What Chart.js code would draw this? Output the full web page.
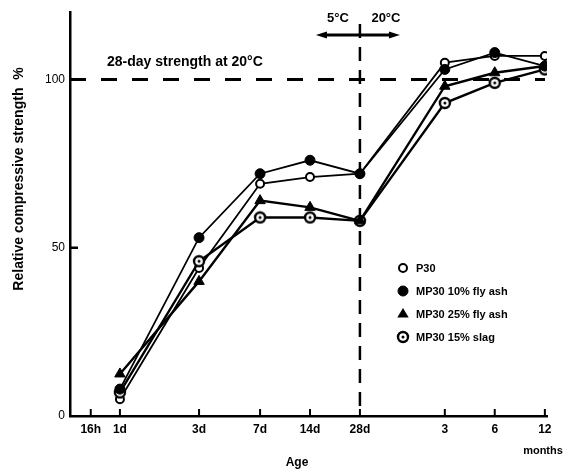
<!DOCTYPE html>
<html>
<head>
<meta charset="utf-8">
<script src="https://cdn.jsdelivr.net/npm/chart.js@4.4.0/dist/chart.umd.min.js"></script>
<style>
  html, body { margin: 0; padding: 0; background: #fff; }
  #wrap { width: 574px; height: 475px; }
</style>
</head>
<body>
<div id="wrap"><canvas id="chart"></canvas></div>
<script>
// Age axis, in days (16h, 1d ... then 3, 6, 12 months)
const ageDays = [0.667, 1, 3, 7, 14, 28, 91, 182, 365];
const ageLabels = ['16h', '1d', '3d', '7d', '14d', '28d', '3', '6', '12'];

// Test ages (nothing was measured at 16h)
const testDays = [1, 3, 7, 14, 28, 91, 182, 365];

// Relative compressive strength, %
const p30 = [5, 44, 69, 71, 72, 105, 107, 107];
const flyAsh10 = [8, 53, 72, 76, 72, 103, 108, 104];
const flyAsh25 = [12.5, 40, 64, 62, 58, 98, 102, 104];
const slag15 = [7, 46, 59, 59, 58, 93, 99, 103];

const yTicks = [0, 50, 100];
const refStrength = 100;   // 28-day strength at 20°C
const switchDay = 28;      // curing moves from 5°C to 20°C

const INK = '#000';
const FONT = '"Liberation Sans", Arial, sans-serif';

function toPoints(values) {
    return testDays.map((d, i) => ({ x: d, y: values[i] }));
}

// open circle with a dot in the middle, for the slag mix
function slagMarker() {
    const c = document.createElement('canvas');
    c.width = 14;
    c.height = 14;
    const g = c.getContext('2d');
    g.beginPath();
    g.arc(7, 7, 5, 0, Math.PI * 2);
    g.fillStyle = '#fff';
    g.fill();
    g.lineWidth = 2.4;
    g.strokeStyle = INK;
    g.stroke();
    g.beginPath();
    g.arc(7, 7, 1.5, 0, Math.PI * 2);
    g.fillStyle = INK;
    g.fill();
    return c;
}
const slagImg = slagMarker();

function drawMarker(ctx, ds, x, y) {
    ctx.save();
    if (ds.pointStyle === 'triangle') {
        const r = ds.pointRadius;
        ctx.beginPath();
        ctx.moveTo(x, y - r);
        ctx.lineTo(x + r * 0.95, y + r * 0.6);
        ctx.lineTo(x - r * 0.95, y + r * 0.6);
        ctx.closePath();
        ctx.fillStyle = INK;
        ctx.fill();
    } else if (ds.pointStyle === 'circle') {
        ctx.beginPath();
        ctx.arc(x, y, ds.pointRadius, 0, Math.PI * 2);
        ctx.fillStyle = ds.pointBackgroundColor;
        ctx.fill();
        ctx.lineWidth = ds.pointBorderWidth;
        ctx.strokeStyle = INK;
        ctx.stroke();
    } else {
        ctx.drawImage(ds.pointStyle, x - 7, y - 7);
    }
    ctx.restore();
}

const decor = {
    id: 'decor',
    beforeDatasetsDraw(chart) {
        const { ctx, chartArea: a, scales: { x, y } } = chart;
        ctx.save();
        ctx.strokeStyle = INK;
        ctx.fillStyle = INK;

        // inward tick marks on both axes
        ctx.lineWidth = 2;
        ageDays.forEach(d => {
            const px = x.getPixelForValue(d);
            ctx.beginPath();
            ctx.moveTo(px, a.bottom);
            ctx.lineTo(px, a.bottom - 7);
            ctx.stroke();
        });
        ctx.lineWidth = 2.5;
        yTicks.slice(1).forEach(v => {
            const py = y.getPixelForValue(v);
            ctx.beginPath();
            ctx.moveTo(a.left, py);
            ctx.lineTo(a.left + 8, py);
            ctx.stroke();
        });

        // 28-day strength reference line
        const yRef = y.getPixelForValue(refStrength);
        ctx.lineWidth = 3;
        ctx.setLineDash([16, 15]);
        ctx.beginPath();
        ctx.moveTo(a.left, yRef);
        ctx.lineTo(a.right - 2, yRef);
        ctx.stroke();

        // curing temperature change
        const xs = x.getPixelForValue(switchDay);
        ctx.lineWidth = 2.5;
        ctx.setLineDash([14, 9]);
        ctx.beginPath();
        ctx.moveTo(xs, 24);
        ctx.lineTo(xs, a.bottom - 10);
        ctx.stroke();
        ctx.setLineDash([]);

        const ay = 35;
        ctx.lineWidth = 3;
        ctx.beginPath();
        ctx.moveTo(xs - 36, ay);
        ctx.lineTo(xs + 32, ay);
        ctx.stroke();
        [[xs - 44, 1], [xs + 40, -1]].forEach(([tip, dir]) => {
            ctx.beginPath();
            ctx.moveTo(tip, ay);
            ctx.lineTo(tip + dir * 11, ay - 3.5);
            ctx.lineTo(tip + dir * 11, ay + 3.5);
            ctx.closePath();
            ctx.fill();
        });

        ctx.font = 'bold 13px ' + FONT;
        ctx.textBaseline = 'middle';
        ctx.textAlign = 'center';
        ctx.fillText('5°C', xs - 22, 18);
        ctx.fillText('20°C', xs + 26, 18);

        ctx.font = 'bold 14px ' + FONT;
        ctx.textAlign = 'left';
        ctx.fillText('28-day strength at 20°C', 107, 62);
        ctx.restore();
    },
    afterDraw(chart) {
        const { ctx } = chart;
        ctx.save();
        ctx.fillStyle = INK;
        ctx.textBaseline = 'middle';

        // axis titles
        ctx.font = 'bold 12px ' + FONT;
        ctx.textAlign = 'center';
        ctx.fillText('Age', 297, 463);
        ctx.font = 'bold 11px ' + FONT;
        ctx.fillText('months', 543, 451);

        ctx.save();
        ctx.translate(19, 179);
        ctx.rotate(-Math.PI / 2);
        ctx.font = 'bold 14px ' + FONT;
        ctx.fillText('Relative compressive strength  %', 0, 0);
        ctx.restore();

        // legend, inside the plot at lower right
        ctx.font = 'bold 11px ' + FONT;
        ctx.textAlign = 'left';
        chart.data.datasets.forEach((ds, i) => {
            const ly = 268 + i * 23;
            drawMarker(ctx, ds, 403, ly);
            ctx.fillText(ds.label, 416, ly + 1);
        });
        ctx.restore();
    }
};

const lineStyle = {
    borderColor: INK,
    pointBorderColor: INK,
    borderWidth: 2,
    tension: 0
};

new Chart(document.getElementById('chart'), {
    type: 'line',
    data: {
        datasets: [
            {
                ...lineStyle,
                label: 'P30',
                data: toPoints(p30),
                order: 4,
                pointStyle: 'circle',
                pointRadius: 4,
                pointBorderWidth: 2,
                pointBackgroundColor: '#fff',
                borderWidth: 1.8
            },
            {
                ...lineStyle,
                label: 'MP30 10% fly ash',
                data: toPoints(flyAsh10),
                order: 1,
                pointStyle: 'circle',
                pointRadius: 5,
                pointBorderWidth: 1,
                pointBackgroundColor: INK,
                borderWidth: 1.8
            },
            {
                ...lineStyle,
                label: 'MP30 25% fly ash',
                data: toPoints(flyAsh25),
                order: 2,
                pointStyle: 'triangle',
                pointRadius: 6,
                pointBorderWidth: 1,
                pointBackgroundColor: INK,
                borderWidth: 2.4
            },
            {
                ...lineStyle,
                label: 'MP30 15% slag',
                data: toPoints(slag15),
                order: 3,
                pointStyle: slagImg,
                pointRadius: 5,
                pointBackgroundColor: '#fff',
                borderWidth: 2.4
            }
        ]
    },
    options: {
        responsive: true,
        maintainAspectRatio: false,
        animation: false,
        layout: {
            padding: { left: 0, top: 10, right: 27, bottom: 0 }
        },
        plugins: {
            legend: { display: false },
            tooltip: { enabled: false }
        },
        scales: {
            x: {
                type: 'logarithmic',
                min: 0.5,
                max: 376,
                afterBuildTicks: scale => {
                    scale.ticks = ageDays.map(v => ({ value: v }));
                },
                afterFit: scale => {
                    scale.height = 59;
                },
                grid: { display: false, drawTicks: false },
                border: { display: true, color: INK, width: 2.5 },
                ticks: {
                    autoSkip: false,
                    maxRotation: 0,
                    padding: 6,
                    color: INK,
                    font: { family: FONT, size: 12, weight: 'bold' },
                    callback: (value, index) => ageLabels[index]
                }
            },
            y: {
                min: 0,
                max: 120,
                afterBuildTicks: scale => {
                    scale.ticks = yTicks.map(v => ({ value: v }));
                },
                afterFit: scale => {
                    scale.width = 70;
                },
                grid: { display: false, drawTicks: false },
                border: { display: true, color: INK, width: 2.5 },
                ticks: {
                    padding: 5,
                    color: INK,
                    font: { family: FONT, size: 12 }
                }
            }
        }
    },
    plugins: [decor]
});
</script>
</body>
</html>
